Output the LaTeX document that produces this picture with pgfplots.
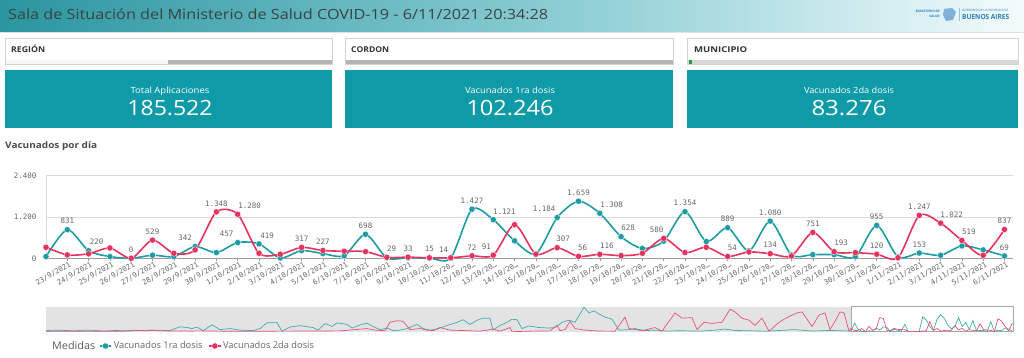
\documentclass[border=0pt]{standalone}
\usepackage{pgfplots}
\pgfplotsset{compat=1.18}
\usepackage{pgfplotstable}
\usepackage{graphicx}
\usepackage{fontspec}
\setmainfont{Open Sans}
\newfontfamily\mono{DejaVu Sans Mono}

\definecolor{tealc}{HTML}{1E9BA3}
\definecolor{redc}{HTML}{E5335F}
\definecolor{kpi}{HTML}{0E9AA7}
\definecolor{hdrL}{HTML}{2A95A0}
\definecolor{hdrM}{HTML}{92D1D7}
\definecolor{hdrR}{HTML}{F4FBFC}
\definecolor{titlec}{HTML}{3A4244}
\definecolor{labgray}{HTML}{666666}
\definecolor{gridgray}{HTML}{DADADA}
\definecolor{axgray}{HTML}{9A9A9A}
\definecolor{boxb}{HTML}{D2D2D2}
\definecolor{bargray}{HTML}{B4B4B4}
\definecolor{barlight}{HTML}{D8D8D8}
\definecolor{logob}{HTML}{2C7DBF}
\definecolor{greensq}{HTML}{1E9E4A}
\definecolor{minibg}{HTML}{E3E3E3}
\definecolor{miniwin}{HTML}{A8A8A8}

\pgfplotstableread{
i t r
0 50 320
1 831 100
2 220 130
3 50 300
4 0 0
5 90 529
6 50 146
7 342 244
8 166 1348
9 457 1280
10 419 146
11 10 117
12 224 317
13 137 227
14 75 205
15 698 195
16 15 29
17 15 33
18 5 15
19 5 14
20 1427 72
21 1121 91
22 507 976
23 130 120
24 1184 307
25 1659 56
26 1308 116
27 628 78
28 283 146
29 498 580
30 1354 166
31 488 322
32 889 54
33 215 185
34 1080 134
35 98 68
36 107 751
37 107 193
38 49 166
39 955 120
40 40 15
41 153 1247
42 88 1022
43 360 519
44 244 88
45 69 837
}\vac

\begin{document}
\begin{tikzpicture}
\useasboundingbox (0,0) rectangle (1024pt,358pt);
\fill[white] (0,0) rectangle (1024pt,358pt);
\begin{scope}[x=1pt,y=-1pt,shift={(0pt,358pt)}]
% header
\shade[left color=hdrL, right color=hdrM] (0,0) rectangle (600,32);
\shade[left color=hdrM, right color=hdrR] (600,0) rectangle (1024,32);
\fill[black!12] (0,32) rectangle (1024,33);
\node[anchor=base west, inner sep=0pt, text=titlec] at (8,19.5)
  {\resizebox{540pt}{\height}{\fontsize{14}{14}\selectfont Sala de Situación del Ministerio de Salud COVID-19 - 6/11/2021 20:34:28}};
% logo
\node[anchor=base east, inner sep=0pt, text=logob, align=right] at (940,13)
  {\fontsize{3.2}{3.6}\selectfont\bfseries MINISTERIO DE};
\node[anchor=base east, inner sep=0pt, text=logob] at (940,17.5)
  {\fontsize{3.2}{3.6}\selectfont\bfseries SALUD};
\fill[logob!60] (944,9) -- (952,8) -- (956,12) -- (953,20) -- (946,21) -- (943,15) -- cycle;
\draw[logob!50, line width=0.4pt] (959,8) -- (959,21);
\node[anchor=base west, inner sep=0pt, text=logob] at (962,11.5)
  {\resizebox{46pt}{\height}{\fontsize{3}{3.4}\selectfont GOBIERNO DE LA PROVINCIA DE}};
\node[anchor=base west, inner sep=0pt, text=logob] at (962,19.5)
  {\resizebox{47pt}{\height}{\fontsize{7}{7}\selectfont\bfseries BUENOS AIRES}};
% filter boxes
\draw[boxb, fill=white, line width=0.6pt] (5,38) rectangle (332,64.5);
\draw[boxb, fill=white, line width=0.6pt] (345,38) rectangle (673,64.5);
\draw[boxb, fill=white, line width=0.6pt] (687,38) rectangle (1018,64.5);
\fill[black!3] (5.5,60) rectangle (168,64);
\fill[bargray] (168,60) rectangle (331.5,64);
\fill[bargray] (345.5,60) rectangle (672.5,64);
\fill[barlight] (687.5,60) rectangle (1017.5,64);
\fill[greensq] (689,60) rectangle (692,64);
\node[anchor=base west, inner sep=0pt, text=black!80] at (11,52.5)
  {\resizebox{34pt}{\height}{\fontsize{8}{8}\selectfont\bfseries REGIÓN}};
\node[anchor=base west, inner sep=0pt, text=black!80] at (351,52.5)
  {\resizebox{38pt}{\height}{\fontsize{8}{8}\selectfont\bfseries CORDON}};
\node[anchor=base west, inner sep=0pt, text=black!80] at (694,52.5)
  {\resizebox{53pt}{\height}{\fontsize{8}{8}\selectfont\bfseries MUNICIPIO}};
% KPI boxes
\fill[kpi] (5,70) rectangle (332,128.5);
\fill[kpi] (345,70) rectangle (673,128.5);
\fill[kpi] (687,70) rectangle (1018,128.5);
\node[anchor=base, inner sep=0pt, text=white] at (170,93.5)
  {\resizebox{79pt}{\height}{\fontsize{8.5}{9}\selectfont Total Aplicaciones}};
\node[anchor=base, inner sep=0pt, text=white] at (170,115.5)
  {\resizebox{85pt}{\height}{\fontsize{21}{21}\selectfont 185.522}};
\node[anchor=base, inner sep=0pt, text=white] at (510,93.5)
  {\resizebox{90pt}{\height}{\fontsize{8.5}{9}\selectfont Vacunados 1ra dosis}};
\node[anchor=base, inner sep=0pt, text=white] at (510,115.5)
  {\resizebox{87pt}{\height}{\fontsize{21}{21}\selectfont 102.246}};
\node[anchor=base, inner sep=0pt, text=white] at (849,93.5)
  {\resizebox{90pt}{\height}{\fontsize{8.5}{9}\selectfont Vacunados 2da dosis}};
\node[anchor=base, inner sep=0pt, text=white] at (849,115.5)
  {\resizebox{75pt}{\height}{\fontsize{21}{21}\selectfont 83.276}};
% chart title
\node[anchor=base west, inner sep=0pt, text=black!70] at (5,149)
  {\resizebox{92pt}{\height}{\fontsize{9}{9}\selectfont\bfseries Vacunados por día}};
% mini chart background
\fill[minibg] (46,306.7) rectangle (851,331.7);
\draw[miniwin, line width=0.6pt, fill=white] (851,306.7) rectangle (1013.7,331.7);
% legend title
\node[anchor=base west, inner sep=0pt, text=black!65] at (52,349.5)
  {\resizebox{43pt}{\height}{\fontsize{10.5}{11}\selectfont Medidas}};
\end{scope}

% main chart
\begin{axis}[
  at={(46pt,99.7pt)}, anchor=south west, scale only axis,
  width=967pt, height=82.6pt,
  xmin=0, xmax=45.4, ymin=0, ymax=2400,
  axis x line=bottom, axis y line=left, axis line style={-},
  x axis line style={draw=axgray, line width=0.7pt},
  y axis line style={draw=gridgray, line width=0.6pt},
  ytick={0,1200,2400}, yticklabels={0,1.200,2.400},
  ymajorgrids, grid style={gridgray, line width=0.6pt},
  ytick style={draw=none},
  yticklabel style={font=\mono\fontsize{7.5}{8}\selectfont, text=labgray, anchor=east, xshift=-3pt},
  xtick={1,...,45},
  xticklabels={23/9/2021,24/9/2021,25/9/2021,26/9/2021,27/9/2021,28/9/2021,29/9/2021,30/9/2021,1/10/2021,2/10/2021,3/10/2021,4/10/2021,5/10/2021,6/10/2021,7/10/2021,8/10/2021,9/10/2021,10/10/20…,11/10/20…,12/10/20…,13/10/20…,14/10/20…,15/10/20…,16/10/20…,17/10/20…,18/10/20…,19/10/20…,20/10/20…,21/10/20…,22/10/20…,23/10/20…,24/10/20…,25/10/20…,26/10/20…,27/10/20…,28/10/20…,29/10/20…,30/10/20…,31/10/20…,1/11/2021,2/11/2021,3/11/2021,4/11/2021,5/11/2021,6/11/2021},
  xtick style={draw=axgray, line width=0.5pt}, major tick length=3pt, tick align=outside,
  xticklabel style={font=\mono\fontsize{7.2}{8}\selectfont, text=labgray, rotate=30, anchor=north east, inner sep=0.5pt, xshift=2pt},
  clip=false,
  legend style={at={(0.0548,-1.062)}, anchor=west, draw=none, fill=none, inner sep=0pt,
    legend columns=-1, font=\fontsize{9.3}{10}\selectfont, text=labgray,
    /tikz/every even column/.append style={column sep=4pt}},
  legend image code/.code={\draw[mark repeat=2,mark phase=2,#1] plot coordinates {(0pt,0pt) (5.5pt,0pt) (11pt,0pt)};},
]
\addplot[tealc, line width=1.6pt, smooth, tension=0.45, mark=*, mark size=3.1pt,
  mark options={solid, fill=tealc, draw=white, line width=0.3pt}]
  table[x=i, y=t]{\vac};
\addlegendentry{Vacunados 1ra dosis}
\addplot[redc, line width=1.6pt, smooth, tension=0.45, mark=*, mark size=3.1pt,
  mark options={solid, fill=redc, draw=white, line width=0.3pt}]
  table[x=i, y=r]{\vac};
\addlegendentry{Vacunados 2da dosis}
% value labels
\addplot[draw=none, forget plot, nodes near coords, point meta=explicit symbolic,
  every node near coord/.append style={font=\mono\fontsize{7.5}{8}\selectfont, text=labgray, inner sep=0pt, yshift=5.5pt}]
  coordinates {(1,831)[831] (2.38,220)[220] (4,0)[0] (6.53,342)[342] (8.48,457)[457] (10.38,419)[419]
  (15,698)[698] (20,1427)[1.427] (21.52,1121)[1.121] (23.39,1184)[1.184] (25,1659)[1.659]
  (26.56,1308)[1.308] (27.33,628)[628] (30,1354)[1.354] (32,889)[889] (34,1080)[1.080]
  (39,955)[955] (41,153)[153] (45,69)[69]};
\addplot[draw=none, forget plot, nodes near coords, point meta=explicit symbolic,
  every node near coord/.append style={font=\mono\fontsize{7.5}{8}\selectfont, text=labgray, inner sep=0pt, yshift=5.5pt}]
  coordinates {(5,529)[529] (8,1348)[1.348] (9.56,1280)[1.280] (12,317)[317] (13,227)[227]
  (16.23,29)[29] (17,33)[33] (18,15)[15] (18.67,14)[14] (20,72)[72] (20.67,91)[91]
  (24.28,307)[307] (25.19,56)[56] (26.33,116)[116] (28.67,580)[580] (32.23,54)[54]
  (34,134)[134] (36,751)[751] (37.33,193)[193] (39,120)[120] (41,1247)[1.247]
  (42.52,1022)[1.022] (43.33,519)[519] (45,837)[837]};
\end{axis}

% mini chart
\begin{axis}[
  at={(46pt,26.3pt)}, anchor=south west, scale only axis,
  width=967.7pt, height=25pt,
  xmin=46, xmax=1013.7, ymin=0, ymax=2400,
  axis lines=none, clip=true,
]
\addplot[tealc!85, line width=0.7pt] coordinates {
(46,100) (55,150) (65,120) (75,80) (85,150) (95,120) (105,60) (115,120) (125,80) (135,140)
(145,90) (153,150) (160,100) (170,120) (180,470) (187,400) (192,300) (197,450) (203,100)
(212,660) (220,200) (230,300) (240,150) (253,100) (260,300) (267,850) (277,875) (282,50)
(290,450) (300,580) (313,400) (318,150) (325,780) (332,500) (337,850) (347,700) (352,350)
(360,650) (367,820) (373,500) (380,200) (387,350) (393,100) (400,150) (407,300) (417,700)
(423,300) (430,150) (437,250) (447,600) (457,900) (463,1150) (470,700) (477,1100) (483,1300)
(490,1300) (493,150) (500,600) (507,900) (512,1200) (517,1150) (522,300) (529,550) (539,400)
(549,350) (555,400) (562,900) (569,1100) (575,900) (580,1700) (584,2350) (589,1800) (594,2000)
(599,1700) (605,1400) (612,1200) (619,150) (629,200) (635,300) (645,100) (655,150) (669,50)
(679,100) (699,50) (712,120) (725,250) (735,120) (745,100) (765,50) (780,120) (795,200)
(812,60) (830,120) (845,80) (851,50)};
\addplot[redc!85, line width=0.7pt] coordinates {
(46,30) (80,50) (120,40) (153,150) (170,60) (200,80) (230,40) (267,50) (300,60) (340,80)
(355,200) (367,300) (375,150) (385,100) (390,900) (397,1050) (403,1000) (410,200) (420,300)
(427,150) (433,100) (440,400) (450,150) (467,100) (480,50) (493,250) (500,50) (510,400)
(512,0) (530,50) (550,80) (557,600) (560,100) (565,200) (570,1000) (575,300) (585,150)
(600,60) (615,50) (625,1400) (629,300) (642,100) (655,400) (662,50) (675,1800) (682,1300)
(692,1350) (697,200) (704,900) (712,800) (722,900) (730,2150) (735,1900) (742,1300) (749,1100)
(755,600) (762,1300) (769,50) (779,900) (784,1200) (790,1500) (797,1800) (802,1900) (807,1200)
(812,500) (819,1600) (825,1800) (830,200) (835,1000) (840,1900) (844,1800) (849,50) (851,320)};
\addplot[tealc!85, line width=0.7pt] table[x expr=851+3.584*\thisrow{i}, y=t]{\vac};
\addplot[redc!85, line width=0.7pt] table[x expr=851+3.584*\thisrow{i}, y=r]{\vac};
\end{axis}
\end{tikzpicture}
\end{document}
